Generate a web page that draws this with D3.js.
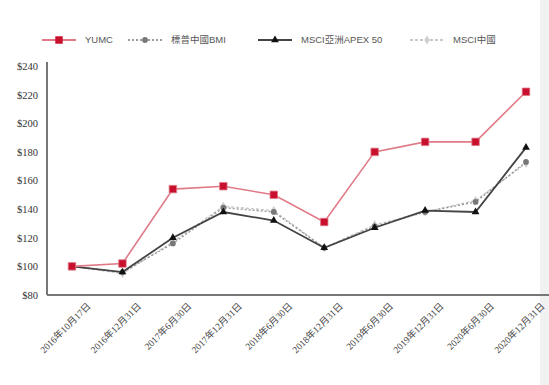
<!DOCTYPE html>
<html>
<head>
<meta charset="utf-8">
<script src="https://cdn.jsdelivr.net/npm/d3@7"></script>
<style>
  body { margin: 0; background: #fff; }
  svg { display: block; }
</style>
</head>
<body>
<div id="chart"></div>
<script>
// DATA =========================================
const dates = ["2016年10月17日", "2016年12月31日", "2017年6月30日", "2017年12月31日",
  "2018年6月30日", "2018年12月31日", "2019年6月30日", "2019年12月31日",
  "2020年6月30日", "2020年12月31日"];
const seriesNames = ["YUMC", "標普中國BMI", "MSCI亞洲APEX 50", "MSCI中國"];
const yumc = [100, 102, 154, 156, 150, 131, 180, 187, 187, 222];
const spChinaBmi = [100, 96, 116, 141, 138, 113, 128, 138, 145, 173];
const msciApex50 = [100, 96, 120, 138, 132, 113, 127, 139, 138, 183];
const msciChina = [100, 95, 117, 142, 139, 113, 129, 138, 146, 172];
const yTicks = [80, 100, 120, 140, 160, 180, 200, 220, 240];

const width = 549, height = 385;
const margin = { top: 66, right: 23, bottom: 89, left: 47 };

const svg = d3.select("#chart").append("svg")
  .attr("width", width)
  .attr("height", height);

// right edge gray band
svg.append("rect")
  .attr("x", 540).attr("y", 0).attr("width", 9).attr("height", height)
  .attr("fill", "#f1f1f1");

// SCALES =======================================
const xScale = d3.scalePoint()
  .domain(dates)
  .range([margin.left + 25, width - margin.right]);

const yScale = d3.scaleLinear()
  .domain([80, 240])
  .range([height - margin.bottom - 1, margin.top]);

const styles = [
  { name: seriesNames[0], values: yumc, stroke: "#e07a86", width: 1.6, dash: null, marker: "square", fill: "#c8102e" },
  { name: seriesNames[1], values: spChinaBmi, stroke: "#9a9a9a", width: 1.4, dash: "2,2", marker: "circle", fill: "#777" },
  { name: seriesNames[2], values: msciApex50, stroke: "#444", width: 1.8, dash: null, marker: "triangle", fill: "#111" },
  { name: seriesNames[3], values: msciChina, stroke: "#c8c8c8", width: 1.4, dash: "3,2", marker: "diamond", fill: "#cfcfcf" }
];

// AXES =========================================
const yAxis = d3.axisLeft(yScale)
  .tickValues(yTicks)
  .tickSize(0)
  .tickPadding(9)
  .tickFormat(d => "$" + d);

const gy = svg.append("g")
  .attr("transform", `translate(${margin.left}, 0)`)
  .call(yAxis)
  .attr("font-family", "'Liberation Serif', serif")
  .attr("font-size", 10.5);
gy.select(".domain").remove();
gy.selectAll("text")
  .attr("fill", "#333");

const xAxis = d3.axisBottom(xScale).tickSize(0).tickPadding(8);
const gx = svg.append("g")
  .attr("transform", `translate(0, ${yScale(80)})`)
  .call(xAxis)
  .attr("font-family", "'Liberation Serif', 'Noto Sans CJK TC', serif")
  .attr("font-size", 9.5);
gx.select(".domain").remove();
gx.selectAll("text")
  .attr("fill", "#444")
  .attr("text-anchor", "end")
  .attr("dy", "0.3em")
  .attr("transform", "translate(11, 4) rotate(-45)");

// axis lines
svg.append("line")
  .attr("x1", margin.left).attr("x2", margin.left)
  .attr("y1", yScale(240) - 4).attr("y2", yScale(80))
  .attr("stroke", "#777").attr("stroke-width", 2);
svg.append("line")
  .attr("x1", margin.left).attr("x2", width)
  .attr("y1", yScale(80)).attr("y2", yScale(80))
  .attr("stroke", "#777").attr("stroke-width", 2);

// MARKERS ======================================
const symbolFor = m => ({
  square: d3.symbolSquare,
  circle: d3.symbolCircle,
  triangle: d3.symbolTriangle,
  diamond: d3.symbolDiamond
})[m];

const line = d3.line()
  .x((d, i) => xScale(dates[i]))
  .y(d => yScale(d));

// draw lighter series first so YUMC is on top
const drawOrder = [3, 1, 2, 0];
drawOrder.forEach(k => {
  const s = styles[k];
  const g = svg.append("g");
  g.append("path")
    .datum(s.values)
    .attr("d", line)
    .attr("fill", "none")
    .attr("stroke", s.stroke)
    .attr("stroke-width", s.width)
    .attr("stroke-dasharray", s.dash);
  g.selectAll("path.pt")
    .data(s.values)
    .join("path")
    .attr("class", "pt")
    .attr("transform", (d, i) => `translate(${xScale(dates[i])}, ${yScale(d)})`)
    .attr("d", d3.symbol().type(symbolFor(s.marker)).size(s.marker === "square" ? 56 : 26))
    .attr("fill", s.fill)
    .attr("stroke", s.marker === "square" ? "#e07a86" : "none")
    .attr("stroke-width", 0.8);
});

// LEGEND =======================================
const legendX = [42, 128, 258, 410];
const legend = svg.append("g").attr("transform", "translate(0, 40)");
styles.forEach((s, i) => {
  const g = legend.append("g").attr("transform", `translate(${legendX[i]}, 0)`);
  g.append("line")
    .attr("x1", 0).attr("x2", 34)
    .attr("stroke", s.stroke)
    .attr("stroke-width", s.width + 0.4)
    .attr("stroke-dasharray", s.dash);
  g.append("path")
    .attr("transform", "translate(17, 0)")
    .attr("d", d3.symbol().type(symbolFor(s.marker)).size(s.marker === "square" ? 56 : 26))
    .attr("fill", s.fill);
  g.append("text")
    .attr("x", 43).attr("y", 0).attr("dy", "0.35em")
    .style("font-family", "'Liberation Sans', 'Noto Sans CJK TC', sans-serif")
    .style("font-size", "9.5px")
    .attr("fill", "#555")
    .text(s.name);
});
</script>
</body>
</html>
